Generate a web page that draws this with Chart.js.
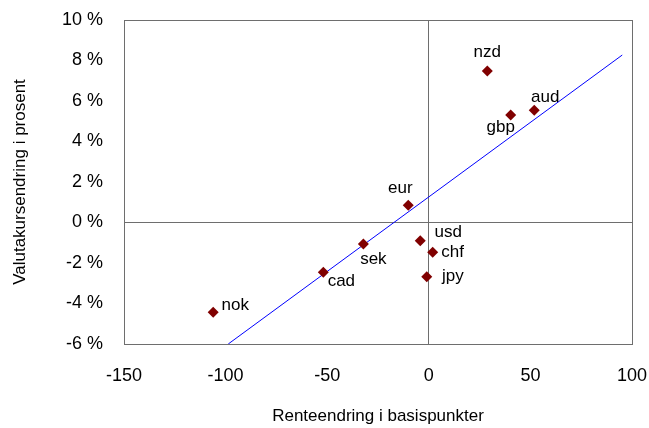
<!DOCTYPE html>
<html>
<head>
<meta charset="utf-8">
<script src="https://cdn.jsdelivr.net/npm/chart.js@4/dist/chart.umd.min.js"></script>
<style>
html,body{margin:0;padding:0;background:#fff;}
#wrap{width:649px;height:428px;position:relative;}
</style>
</head>
<body>
<div id="wrap"><canvas id="c" width="649" height="428"></canvas></div>
<script>
// Data
const currencies = ['nok','cad','sek','eur','usd','chf','jpy','nzd','gbp','aud'];
const rateChange = [-106.1, -51.9, -32.2, -10.1, -4.2, 1.9, -1.0, 28.8, 40.3, 51.9];   // basis points
const fxChange   = [-4.43, -2.46, -1.06, 0.85, -0.90, -1.47, -2.68, 7.48, 5.31, 5.54]; // percent
const trendX = [-98.7, 95.2];
const trendY = [-6.0, 8.27];
const xTicks = [-150, -100, -50, 0, 50, 100];
const yTicks = [-6, -4, -2, 0, 2, 4, 6, 8, 10];

const scatterData = currencies.map((c, i) => ({x: rateChange[i], y: fxChange[i], label: c}));
const trendData = trendX.map((x, i) => ({x: x, y: trendY[i]}));

// label placement (style): offset of label centre from point, in px
const labelOffsets = {
  nok: [22, -7], cad: [18, 9], sek: [10, 15], eur: [-8, -17], usd: [28, -8],
  chf: [20, 0], jpy: [26, 0], nzd: [0, -19], gbp: [-10, 12], aud: [11, -13]
};

const FONT = "'Liberation Sans', Arial, sans-serif";

const labelPlugin = {
  id: 'pointLabels',
  afterDatasetsDraw(chart) {
    const ctx = chart.ctx;
    const meta = chart.getDatasetMeta(0);
    ctx.save();
    ctx.font = '17px ' + FONT;
    ctx.fillStyle = '#000';
    ctx.textAlign = 'center';
    ctx.textBaseline = 'middle';
    meta.data.forEach((el, i) => {
      const name = currencies[i];
      const off = labelOffsets[name] || [0, 0];
      ctx.fillText(name, el.x + off[0], el.y + off[1]);
    });
    ctx.restore();
  }
};

const boxPlugin = {
  id: 'box',
  beforeDatasetsDraw(chart) {
    const a = chart.chartArea, ctx = chart.ctx;
    ctx.save();
    ctx.strokeStyle = '#6e6e6e';
    ctx.lineWidth = 1;
    ctx.strokeRect(Math.round(a.left) + 0.5, Math.round(a.top) + 0.5,
                   Math.round(a.right - a.left), Math.round(a.bottom - a.top));
    ctx.restore();
  }
};

new Chart(document.getElementById('c'), {
  type: 'scatter',
  data: {
    datasets: [
      {
        type: 'scatter',
        data: scatterData,
        pointStyle: 'rectRot',
        pointRadius: 5.5,
        pointHoverRadius: 5.5,
        backgroundColor: '#800000',
        borderColor: '#800000',
        borderWidth: 0,
        order: 1
      },
      {
        type: 'line',
        data: trendData,
        borderColor: '#0000ff',
        borderWidth: 1,
        pointRadius: 0,
        fill: false,
        tension: 0,
        order: 2
      }
    ]
  },
  options: {
    responsive: false,
    animation: false,
    layout: {padding: {top: 20, right: 17, left: 0, bottom: 0}},
    plugins: {legend: {display: false}, tooltip: {enabled: false}},
    scales: {
      x: {
        type: 'linear',
        min: -150, max: 100,
        afterBuildTicks: s => { s.ticks = xTicks.map(v => ({value: v})); },
        afterFit: s => { s.height = 84; s.paddingLeft = 0; s.paddingRight = 0; },
        border: {display: false},
        grid: {
          drawTicks: false,
          lineWidth: 1,
          color: c => (c.tick && c.tick.value === 0) ? '#6e6e6e' : 'rgba(0,0,0,0)'
        },
        ticks: {color: '#000', font: {family: FONT, size: 18}, padding: 21, maxRotation: 0},
        title: {display: true, text: 'Renteendring i basispunkter', color: '#000',
                font: {family: FONT, size: 17}, padding: {top: 4, bottom: 1}}
      },
      y: {
        type: 'linear',
        min: -6, max: 10,
        afterBuildTicks: s => { s.ticks = yTicks.map(v => ({value: v})); },
        afterFit: s => { s.width = 124; s.paddingTop = 0; s.paddingBottom = 0; },
        border: {display: false},
        grid: {
          drawTicks: false,
          lineWidth: 1,
          color: c => (c.tick && c.tick.value === 0) ? '#6e6e6e' : 'rgba(0,0,0,0)'
        },
        ticks: {color: '#000', font: {family: FONT, size: 18}, padding: 21,
                callback: v => v + ' %'},
        title: {display: true, text: 'Valutakursendring i prosent', color: '#000',
                font: {family: FONT, size: 17}, padding: {top: 10, bottom: 4}}
      }
    }
  },
  plugins: [boxPlugin, labelPlugin]
});
</script>
</body>
</html>
